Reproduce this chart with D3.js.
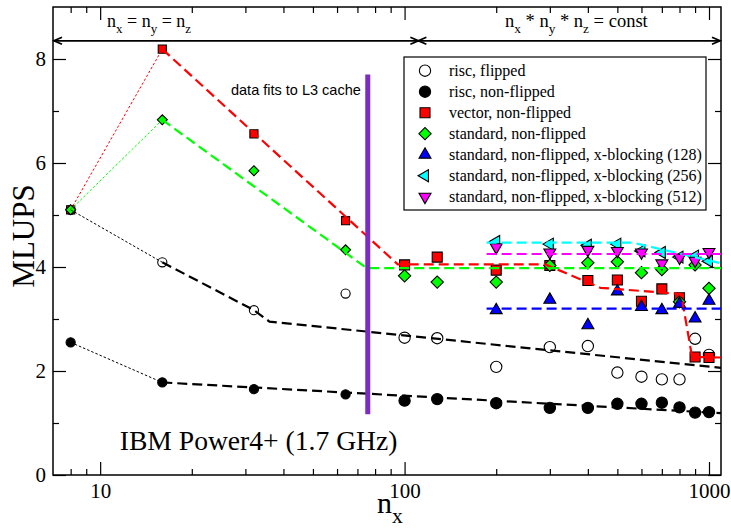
<!DOCTYPE html>
<html>
<head>
<meta charset="utf-8">
<script src="https://cdn.jsdelivr.net/npm/d3@7"></script>
<style>
  body { margin: 0; background: #fff; }
  svg { display: block; }
  .serif { font-family: 'Liberation Serif', 'Times New Roman', serif; }
  .sans { font-family: 'Liberation Sans', Arial, sans-serif; }
</style>
</head>
<body>
<div id="chart"></div>
<script>
// data
const nxCube = [8, 16, 32, 64]
const nxConst = [100, 128, 200, 300, 400, 500, 600, 700, 800, 900, 1000]
const nxBlock = [200, 300, 400, 500, 600, 700, 800, 900, 1000]

const riscFlipped = [5.1, 4.09, 3.17, 3.49, 2.64, 2.63, 2.08, 2.46, 2.48, 1.97, 1.89, 1.84, 1.84, 2.62, 2.31]
const riscNonFlipped = [2.55, 1.78, 1.65, 1.55, 1.43, 1.46, 1.38, 1.29, 1.29, 1.37, 1.37, 1.39, 1.30, 1.20, 1.21]
const vectorNonFlipped = [5.1, 8.19, 6.56, 4.89, 4.04, 4.19, 3.94, 4.03, 3.74, 3.75, 3.34, 3.58, 3.41, 2.27, 2.26]
const standardNonFlipped = [5.1, 6.83, 5.85, 4.33, 3.83, 3.71, 3.71, 4.03, 4.08, 4.10, 3.89, 3.95, 3.33, 4.04, 3.59]
const block128 = [3.17, 3.37, 2.88, 3.53, 3.23, 3.17, 3.29, 3.01, 3.35]
const block256 = [4.49, 4.44, 4.42, 4.44, 4.31, 4.28, 4.19, 4.21, 4.11]
const block512 = [4.38, 4.28, 4.33, 4.31, 4.28, 4.07, 4.18, 4.12, 4.29]

// fitted guide lines, [nx, MLUPS]
const riscFlippedStart = [[8, 5.1], [16, 4.09]]
const riscFlippedFit = [[16, 4.09], [32, 3.17], [36, 2.95], [1095, 2.06]]
const riscNonFlippedStart = [[8, 2.55], [16, 1.78]]
const riscNonFlippedFit = [[16, 1.78], [1095, 1.19]]
const vectorStart = [[8, 5.1], [16, 8.19]]
const vectorFit = [[16, 8.19], [95, 4.05], [290, 4.05], [440, 3.6], [810, 3.48], [880, 2.27], [1095, 2.26]]
const standardStart = [[8, 5.1], [16, 6.83]]
const standardFit = [[16, 6.83], [75, 3.98], [1095, 3.98]]
const block128Fit = [[186, 3.2], [1095, 3.2]]
const block256Fit = [[186, 4.47], [560, 4.47], [1080, 4.08]]
const block512Fit = [[186, 4.25], [1095, 4.25]]

const legendLabels = [
  'risc, flipped',
  'risc, non-flipped',
  'vector, non-flipped',
  'standard, non-flipped',
  'standard, non-flipped, x-blocking (128)',
  'standard, non-flipped, x-blocking (256)',
  'standard, non-flipped, x-blocking (512)'
]

const xMajor = [10, 100, 1000]
const yMajor = [0, 2, 4, 6, 8]
const yMinor = [1, 3, 5, 7]
const l3Limit = 75.7
const l3Range = [1.17, 7.7]
const headerLevel = 8.35
const headerSplit = 111

const width = 731
const height = 530
const margin = {top: 7, right: 10, bottom: 55, left: 53}

const svg = d3.select('#chart')
  .append('svg')
  .attr('width', width)
  .attr('height', height)

const x = d3.scaleLog().domain([7, 1095]).range([margin.left, width - margin.right])
const y = d3.scaleLinear().domain([0, 9]).range([height - margin.bottom, margin.top])
const xMinor = x.ticks().filter(v => v > 7 && !xMajor.includes(v))

// axes, ticks point inward on all four sides
const styleAxis = g => {
  g.select('.domain').remove()
  g.selectAll('.tick line').attr('stroke', '#000').attr('stroke-width', 1.2)
  g.selectAll('.tick text')
    .attr('class', 'serif')
    .attr('fill', '#000')
    .style('font-size', '21px')
}
const axisGroup = (axis, tx, ty) => svg.append('g')
  .attr('transform', `translate(${tx},${ty})`)
  .call(axis)
  .call(styleAxis)

axisGroup(d3.axisBottom(x).tickValues(xMajor).tickSize(-13).tickPadding(8).tickFormat(d3.format('d')), 0, y(0))
axisGroup(d3.axisBottom(x).tickValues(xMinor).tickSize(-6).tickFormat(''), 0, y(0))
axisGroup(d3.axisTop(x).tickValues(xMajor).tickSize(-13).tickFormat(''), 0, y(9))
axisGroup(d3.axisTop(x).tickValues(xMinor).tickSize(-6).tickFormat(''), 0, y(9))
axisGroup(d3.axisLeft(y).tickValues(yMajor).tickSize(-13).tickPadding(7), x.range()[0], 0)
axisGroup(d3.axisLeft(y).tickValues(yMinor).tickSize(-6).tickFormat(''), x.range()[0], 0)
axisGroup(d3.axisRight(y).tickValues(yMajor).tickSize(-13).tickFormat(''), x.range()[1], 0)
axisGroup(d3.axisRight(y).tickValues(yMinor).tickSize(-6).tickFormat(''), x.range()[1], 0)

svg.append('rect')
  .attr('x', x.range()[0])
  .attr('y', y(9))
  .attr('width', x.range()[1] - x.range()[0])
  .attr('height', y(0) - y(9))
  .attr('fill', 'none')
  .attr('stroke', '#000')
  .attr('stroke-width', 1.5)

// symbols
const shapes = {
  circle: {type: d3.symbolCircle, rotate: 0, scale: 1},
  square: {type: d3.symbolSquare, rotate: 0, scale: 1},
  diamond: {type: d3.symbolSquare, rotate: 45, scale: 0.75},
  up: {type: d3.symbolTriangle, rotate: 0, scale: 0.62},
  left: {type: d3.symbolTriangle, rotate: -90, scale: 0.62},
  down: {type: d3.symbolTriangle, rotate: 180, scale: 0.62}
}
const drawSymbol = (g, shape, fill, size, px, py) => {
  const s = shapes[shape]
  g.append('path')
    .attr('d', d3.symbol().type(s.type).size(size * s.scale)())
    .attr('transform', `translate(${px},${py}) rotate(${s.rotate})`)
    .attr('fill', fill)
    .attr('stroke', '#000')
    .attr('stroke-width', 1.1)
}

const nxAll = nxCube.concat(nxConst)
const series = [
  {xs: nxAll, ys: riscFlipped, shape: 'circle', fill: '#fff'},
  {xs: nxAll, ys: riscNonFlipped, shape: 'circle', fill: '#000'},
  {xs: nxAll, ys: vectorNonFlipped, shape: 'square', fill: '#ff0000'},
  {xs: nxAll, ys: standardNonFlipped, shape: 'diamond', fill: '#00ff00'},
  {xs: nxBlock, ys: block128, shape: 'up', fill: '#0000ff'},
  {xs: nxBlock, ys: block256, shape: 'left', fill: '#00ffff'},
  {xs: nxBlock, ys: block512, shape: 'down', fill: '#ff00ff'}
]

const marks = svg.append('g')
series.forEach(s => {
  s.xs.forEach((nx, i) => {
    drawSymbol(marks, s.shape, s.fill, nx < 100 ? 66 : 100, x(nx), y(s.ys[i]))
  })
})

// guide lines
const line = d3.line().x(d => x(d[0])).y(d => y(d[1]))
const thin = [
  [riscFlippedStart, '#000'], [riscNonFlippedStart, '#000'],
  [vectorStart, '#ff0000'], [standardStart, '#00ff00']
]
const thick = [
  [riscFlippedFit, '#000'], [riscNonFlippedFit, '#000'],
  [vectorFit, '#ff0000'], [standardFit, '#00ff00'],
  [block128Fit, '#0000ff'], [block256Fit, '#00ffff'], [block512Fit, '#ff00ff']
]
thin.forEach(([d, c]) => svg.append('path')
  .attr('d', line(d))
  .attr('fill', 'none')
  .attr('stroke', c)
  .attr('stroke-width', 1)
  .attr('stroke-dasharray', '2.5,2'))
thick.forEach(([d, c]) => svg.append('path')
  .attr('d', line(d))
  .attr('fill', 'none')
  .attr('stroke', c)
  .attr('stroke-width', 2.2)
  .attr('stroke-dasharray', '10,5'))

// L3 cache boundary
svg.append('line')
  .attr('x1', x(l3Limit))
  .attr('x2', x(l3Limit))
  .attr('y1', y(l3Range[0]))
  .attr('y2', y(l3Range[1]))
  .attr('stroke', '#7b2cc2')
  .attr('stroke-width', 5)
svg.append('text')
  .attr('class', 'sans')
  .attr('x', x(l3Limit) - 7)
  .attr('y', y(7.31))
  .attr('text-anchor', 'end')
  .style('font-size', '14.5px')
  .text('data fits to L3 cache')

svg.append('text')
  .attr('class', 'serif')
  .attr('x', x(11.6))
  .attr('y', y(0.48))
  .style('font-size', '27.6px')
  .text('IBM Power4+ (1.7 GHz)')

// header arrows
const hy = y(headerLevel)
const arrow = (xa, xb) => {
  svg.append('line')
    .attr('x1', xa).attr('x2', xb).attr('y1', hy).attr('y2', hy)
    .attr('stroke', '#000').attr('stroke-width', 1.8)
  const head = (tip, dir) => svg.append('path')
    .attr('d', `M${tip - dir * 8},${hy - 3.5}L${tip},${hy}L${tip - dir * 8},${hy + 3.5}`)
    .attr('fill', 'none').attr('stroke', '#000').attr('stroke-width', 1.8)
  head(xa, -1)
  head(xb, 1)
}
arrow(x.range()[0] + 1, x(headerSplit))
arrow(x(headerSplit), x.range()[1] - 1)

// text with subscripts: parts are [string, isSubscript]
const subText = (px, py, parts, size) => {
  const t = svg.append('text')
    .attr('class', 'serif')
    .attr('x', px)
    .attr('y', py)
    .style('font-size', size + 'px')
  const shift = size * 0.32
  let lowered = false
  parts.forEach(([s, sub]) => {
    const isSub = !!sub
    const dy = isSub === lowered ? 0 : (isSub ? shift : -shift)
    lowered = isSub
    t.append('tspan')
      .attr('dy', dy)
      .style('font-size', isSub ? (size * 0.72) + 'px' : size + 'px')
      .text(s)
  })
  return t
}
subText(107, 27, [['n'], ['x', true], [' = n'], ['y', true], [' = n'], ['z', true]], 18)
subText(505, 27, [['n'], ['x', true], [' * n'], ['y', true], [' * n'], ['z', true], [' = const']], 18.5)

// axis titles
subText(377, 513, [['n'], ['x', true]], 30)
svg.append('text')
  .attr('class', 'serif')
  .attr('transform', `translate(34,236) rotate(-90)`)
  .attr('text-anchor', 'middle')
  .style('font-size', '31px')
  .text('MLUPS')

// legend
const legend = svg.append('g')
legend.append('rect')
  .attr('x', 404).attr('y', 57).attr('width', 302).attr('height', 153)
  .attr('fill', '#fff').attr('stroke', '#000').attr('stroke-width', 1.2)
legendLabels.forEach((label, i) => {
  const ly = 70.7 + i * 21
  drawSymbol(legend, series[i].shape, series[i].fill, 100, 425, ly)
  legend.append('text')
    .attr('class', 'serif')
    .attr('x', 449)
    .attr('y', ly)
    .attr('dy', '0.35em')
    .style('font-size', '16px')
    .text(label)
})
</script>
</body>
</html>
